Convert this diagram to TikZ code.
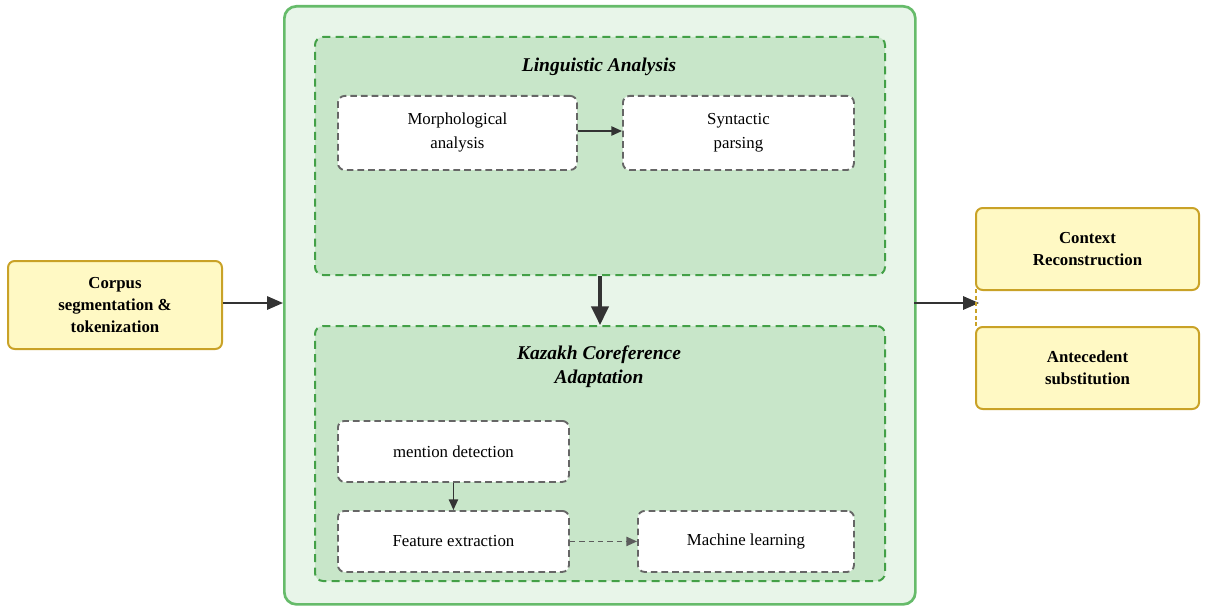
\documentclass[tikz,border=0pt]{standalone}
\usepackage{fontspec}
\setmainfont{Liberation Serif}
\usetikzlibrary{arrows.meta}
\definecolor{outerfill}{HTML}{E8F5E9}
\definecolor{outerdraw}{HTML}{66BB6A}
\definecolor{innerfill}{HTML}{C8E6C9}
\definecolor{innerdraw}{HTML}{43A047}
\definecolor{yfill}{HTML}{FFF9C4}
\definecolor{ydraw}{HTML}{C9A227}
\definecolor{boxdraw}{HTML}{666666}
\definecolor{arr}{HTML}{333333}
\tikzset{
  outerbox/.style={draw=outerdraw, fill=outerfill, line width=2pt, rounded corners=9pt},
  groupbox/.style={draw=innerdraw, fill=innerfill, line width=1.5pt, dash pattern=on 6pt off 4pt, rounded corners=6pt},
  stepbox/.style={draw=boxdraw, fill=white, line width=1.4pt, dash pattern=on 5pt off 3pt, rounded corners=5pt, align=center, font=\fontsize{12.6}{18}\selectfont},
  ybox/.style={draw=ydraw, fill=yfill, line width=1.5pt, rounded corners=5pt, align=center, font=\bfseries\fontsize{12.6}{16.5}\selectfont},
  title/.style={font=\bfseries\itshape\fontsize{14.6}{18}\selectfont, align=center},
  conn/.style={draw=arr, line width=1.1pt, -{Triangle[length=8pt,width=7pt]}},
  bigconn/.style={draw=arr, line width=2.4pt, -{Triangle[length=14pt,width=13pt]}},
}
\begin{document}
\begin{tikzpicture}[x=0.75pt,y=-0.75pt]
\useasboundingbox (0,0) rectangle (1205,606);
% outer
\node[outerbox, minimum width=631*0.75pt, minimum height=598*0.75pt, anchor=north west, inner sep=0] (outer) at (283,5) {};
% groups
\node[groupbox, minimum width=570*0.75pt, minimum height=238*0.75pt, anchor=north west, inner sep=0] (ling) at (314,36) {};
\node[groupbox, minimum width=570*0.75pt, minimum height=255*0.75pt, anchor=north west, inner sep=0] (kaz) at (314,325) {};
\node[title] (lingt) at (599,67) {Linguistic Analysis};
\node[title] (kazt) at (599,367) {Kazakh Coreference\\Adaptation};
% steps
\node[stepbox, minimum width=239*0.75pt, minimum height=74*0.75pt, anchor=north west, inner sep=0] (morph) at (337,95) {Morphological\\analysis};
\node[stepbox, minimum width=231*0.75pt, minimum height=74*0.75pt, anchor=north west, inner sep=0] (syn) at (622,95) {Syntactic\\parsing};
\node[stepbox, minimum width=231*0.75pt, minimum height=61*0.75pt, anchor=north west, inner sep=0] (mention) at (337,420) {mention detection};
\node[stepbox, minimum width=231*0.75pt, minimum height=61*0.75pt, anchor=north west, inner sep=0] (feat) at (337,510) {Feature extraction};
\node[stepbox, minimum width=216*0.75pt, minimum height=61*0.75pt, anchor=north west, inner sep=0] (ml) at (637,510) {Machine learning};
% yellow
\node[ybox, minimum width=214*0.75pt, minimum height=88*0.75pt, anchor=north west, inner sep=0] (corpus) at (7,260) {Corpus\\segmentation \&\\tokenization};
\node[ybox, minimum width=223*0.75pt, minimum height=82*0.75pt, anchor=north west, inner sep=0] (ctx) at (975,207) {Context\\Reconstruction};
\node[ybox, minimum width=223*0.75pt, minimum height=82*0.75pt, anchor=north west, inner sep=0] (ante) at (975,326) {Antecedent\\substitution};
% connectors
\coordinate (outin) at (283,303);
\coordinate (outout) at (914,303);
\coordinate (rtarget) at (979,303);
\coordinate (dtop) at (976,289);
\coordinate (dbot) at (976,326);
\draw[conn, line width=1.6pt, -{Triangle[length=12pt,width=10pt]}] (corpus.east |- outin) -- (outin);
\draw[conn, line width=1.6pt, -{Triangle[length=12pt,width=10pt]}] (outout) -- (rtarget);
\draw[draw=ydraw, line width=0.8pt, dash pattern=on 3pt off 2pt] (dtop) -- (dbot);
\draw[conn] (morph.east |- 0,131) -- (syn.west |- 0,131);
\draw[bigconn] (ling.south) -- (kaz.north);
\draw[conn] (mention.south) -- (feat.north);
\draw[conn, dash pattern=on 4pt off 3pt, draw=arr!80] (feat.east) -- (ml.west);
\end{tikzpicture}
\end{document}
